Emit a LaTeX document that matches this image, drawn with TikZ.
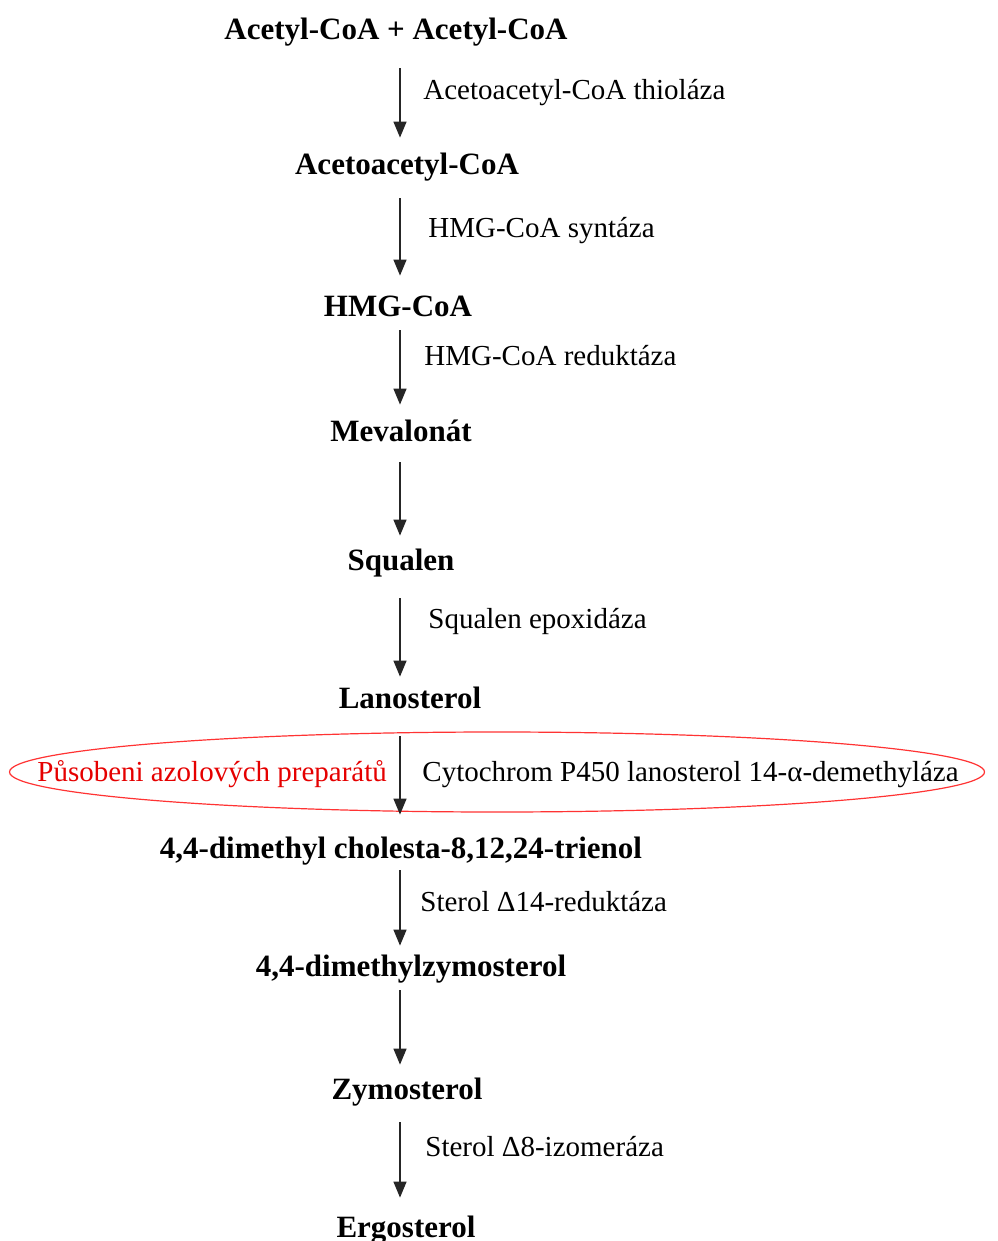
\documentclass[tikz,border=0pt]{standalone}
\usepackage{fontspec}
\setmainfont{Liberation Serif}
\usetikzlibrary{arrows.meta,shapes.geometric}

\tikzset{
    compound/.style={font=\fontsize{15.5}{18}\selectfont\bfseries, inner sep=0pt, text height=11pt, text depth=3pt},
    enzyme/.style={font=\fontsize{14.5}{17}\selectfont, anchor=west, inner sep=0pt, text height=10pt, text depth=3pt},
    reaction/.style={draw=black!85, line width=0.7pt, -{Triangle[length=8pt,width=6.5pt]}}
}

\begin{document}
\begin{tikzpicture}[x=0.5pt, y=-0.5pt]
    \useasboundingbox (0,0) rectangle (997,1241);
    \coordinate (ax) at (400,0);

    % compounds
    \node [compound] (acetyl) at (396,32) {Acetyl-CoA + Acetyl-CoA};
    \node [compound] (acetoacetyl) at (407,167) {Acetoacetyl-CoA};
    \node [compound] (hmg) at (398,308) {HMG-CoA};
    \node [compound] (mevalonat) at (401,433) {Mevalonát};
    \node [compound] (squalen) at (401,562) {Squalen};
    \node [compound] (lanosterol) at (410,700) {Lanosterol};
    \node [compound] (trienol) at (401,850) {4,4-dimethyl cholesta-8,12,24-trienol};
    \node [compound] (dmzymo) at (411,968) {4,4-dimethylzymosterol};
    \node [compound] (zymo) at (407,1091) {Zymosterol};
    \node [compound] (ergo) at (406,1229) {Ergosterol};

    % enzymes
    \node [enzyme] (thiolaza) at (423,93) {Acetoacetyl-CoA thioláza};
    \node [enzyme] (syntaza) at (428,231) {HMG-CoA syntáza};
    \node [enzyme] (reduktaza) at (424,358) {HMG-CoA reduktáza};
    \node [enzyme] (epoxidaza) at (428,621) {Squalen epoxidáza};
    \node [enzyme] (demethylaza) at (422,774) {Cytochrom P450 lanosterol 14-α-demethyláza};
    \node [enzyme] (d14) at (420,904) {Sterol Δ14-reduktáza};
    \node [enzyme] (d8) at (425,1149) {Sterol Δ8-izomeráza};

    % azole action
    \node [enzyme, text=red!90!black] (azol) at (37,774) {Působeni azolových preparátů};
    \node [draw=red!80, line width=0.6pt, ellipse, inner sep=0pt, minimum width=487.5pt, minimum height=40pt] (inhib) at (497,772) {};

    % reactions
    \draw [reaction, shorten <=11pt, shorten >=7.5pt] (acetyl.south -| ax) -- (acetoacetyl.north -| ax);
    \draw [reaction, shorten <=8.5pt, shorten >=9pt] (acetoacetyl.south -| ax) -- (hmg.north -| ax);
    \draw [reaction, shorten <=4pt, shorten >=7pt] (hmg.south -| ax) -- (mevalonat.north -| ax);
    \draw [reaction, shorten <=7.5pt, shorten >=6pt] (mevalonat.south -| ax) -- (squalen.north -| ax);
    \draw [reaction, shorten <=11pt, shorten >=4.5pt] (squalen.south -| ax) -- (lanosterol.north -| ax);
    \draw [reaction, shorten <=11pt, shorten >=10.5pt] (lanosterol.south -| ax) -- (trienol.north -| ax);
    \draw [reaction, shorten <=3pt, shorten >=4pt] (trienol.south -| ax) -- (dmzymo.north -| ax);
    \draw [reaction, shorten <=4pt, shorten >=6pt] (dmzymo.south -| ax) -- (zymo.north -| ax);
    \draw [reaction, shorten <=8.5pt, shorten >=8.5pt] (zymo.south -| ax) -- (ergo.north -| ax);
\end{tikzpicture}
\end{document}
